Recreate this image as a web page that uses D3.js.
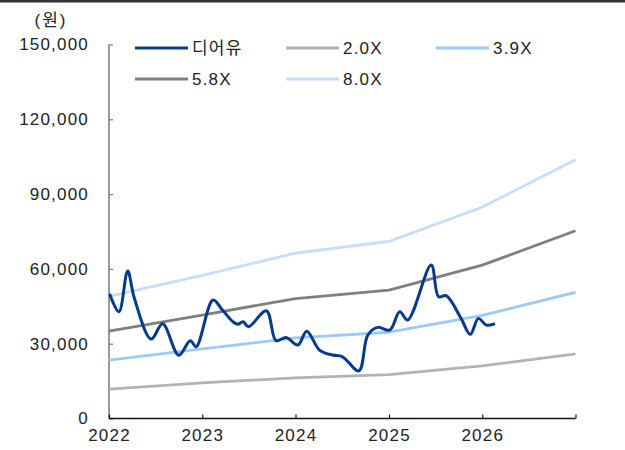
<!DOCTYPE html>
<html><head><meta charset="utf-8">
<script src="https://cdn.jsdelivr.net/npm/d3@7"></script>
<style>
body{margin:0;background:#fff;}
svg text{font-family:"Liberation Sans","Noto Sans CJK KR",Arial,sans-serif;fill:#222;}
</style></head>
<body><svg id="c" width="625" height="450"></svg>
<script>
const bandYears = [2022, 2023, 2024, 2025, 2026, 2027];
const band20 = [11800, 14300, 16300, 17600, 21100, 25900];
const band39 = [23400, 27900, 32300, 34600, 41400, 50600];
const band58 = [35000, 41500, 48100, 51500, 61500, 75300];
const band80 = [49000, 57400, 66300, 71000, 84800, 103800];
const priceDates = ["2022-01-05","2022-02-09","2022-03-15","2022-04-10","2022-06-15","2022-07-30","2022-10-01","2022-11-15","2022-12-08","2023-02-12","2023-03-21","2023-05-01","2023-05-20","2023-06-10","2023-07-01","2023-09-09","2023-10-17","2023-11-25","2024-01-10","2024-02-14","2024-04-04","2024-05-25","2024-07-03","2024-09-05","2024-10-10","2024-11-18","2025-01-04","2025-02-12","2025-03-15","2025-06-15","2025-07-14","2025-08-13","2025-10-10","2025-11-15","2025-12-17","2026-01-17","2026-02-15"];
const priceValues = [49500,42800,59200,48300,31850,38000,25400,31200,28750,47500,43500,38800,37800,38800,36800,43200,31200,32500,29450,35000,27450,25450,24750,19100,33450,36550,35450,42800,39500,61550,48850,49250,40150,33750,40150,37450,37900];
const yTicks = [0, 30000, 60000, 90000, 120000, 150000];
const xTickYears = [2022, 2023, 2024, 2025, 2026, 2027];
const xTickLabels = ["2022", "2023", "2024", "2025", "2026", ""];
const seriesNames = ["디어유", "2.0X", "3.9X", "5.8X", "8.0X"];

const svg = d3.select("#c");
svg.append("rect").attr("x",0).attr("y",0).attr("width",625).attr("height",2.5).attr("fill","#333");

const x = d3.scaleTime().domain([new Date(2022,0,1), new Date(2027,0,1)]).range([109, 575.5]);
const y = d3.scaleLinear().domain([0, 150000]).range([418.5, 44.5]);
const yr = v => new Date(v,0,1);

const colors = {"디어유":"#053a8d","2.0X":"#b3b3b3","3.9X":"#9ccaf8","5.8X":"#7f7f7f","8.0X":"#c8dcfb"};

// axes
const yAxis = d3.axisLeft(y).tickValues(yTicks).tickSize(-4).tickPadding(20).tickFormat(d3.format(","));
const gy = svg.append("g").attr("transform","translate(109,0)").call(yAxis);
gy.select(".domain").attr("stroke","#808080").attr("stroke-width",1.6).attr("d","M0,44.5V418.5");
gy.selectAll(".tick line").attr("stroke","#808080").attr("stroke-width",1.2);
gy.selectAll(".tick text").attr("font-size",17).attr("letter-spacing","1.2px").attr("fill","#222");

const xAxis = d3.axisBottom(x).tickValues(xTickYears.map(yr)).tickSize(-4).tickPadding(10)
  .tickFormat((d,i)=>xTickLabels[i]);
const gx = svg.append("g").attr("transform","translate(0,418.5)").call(xAxis);
gx.select(".domain").attr("stroke","#111").attr("stroke-width",1.4).attr("d","M109,0H575.5");
gx.selectAll(".tick line").attr("stroke","#111").attr("stroke-width",1.2);
gx.selectAll(".tick text").attr("font-size",17).attr("letter-spacing","1.2px").attr("fill","#222");

svg.append("text").attr("x",51).attr("y",26).attr("text-anchor","middle").attr("font-size",17)
  .attr("letter-spacing","2px").text("(원)");

// band lines
const bandLine = d3.line().x(d=>x(yr(d[0]))).y(d=>y(d[1]));
[["2.0X",band20],["3.9X",band39],["5.8X",band58],["8.0X",band80]].forEach(([n,vals])=>{
  svg.append("path").datum(bandYears.map((t,i)=>[t,vals[i]]))
    .attr("d",bandLine).attr("fill","none").attr("stroke",colors[n]).attr("stroke-width",2.8)
    .attr("stroke-linejoin","round");
});

// price
const parse = d3.timeParse("%Y-%m-%d");
const priceLine = d3.line().x(d=>x(d[0])).y(d=>y(d[1])).curve(d3.curveCatmullRom.alpha(0.5));
svg.append("path").datum(priceDates.map((d,i)=>[parse(d),priceValues[i]]))
  .attr("d",priceLine).attr("fill","none").attr("stroke",colors["디어유"]).attr("stroke-width",3)
  .attr("stroke-linejoin","round").attr("stroke-linecap","round");

// legend
const legPos = [[135,48],[286,48],[436,48],[135,79],[286,79]];
seriesNames.forEach((n,i)=>{
  const [lx,ly] = legPos[i];
  svg.append("line").attr("x1",lx).attr("x2",lx+53).attr("y1",ly).attr("y2",ly)
    .attr("stroke",colors[n]).attr("stroke-width",3.2);
  svg.append("text").attr("x",lx+57).attr("y",ly).attr("dy","0.36em").attr("font-size",17)
    .attr("letter-spacing","1.2px").text(n);
});
</script></body></html>
